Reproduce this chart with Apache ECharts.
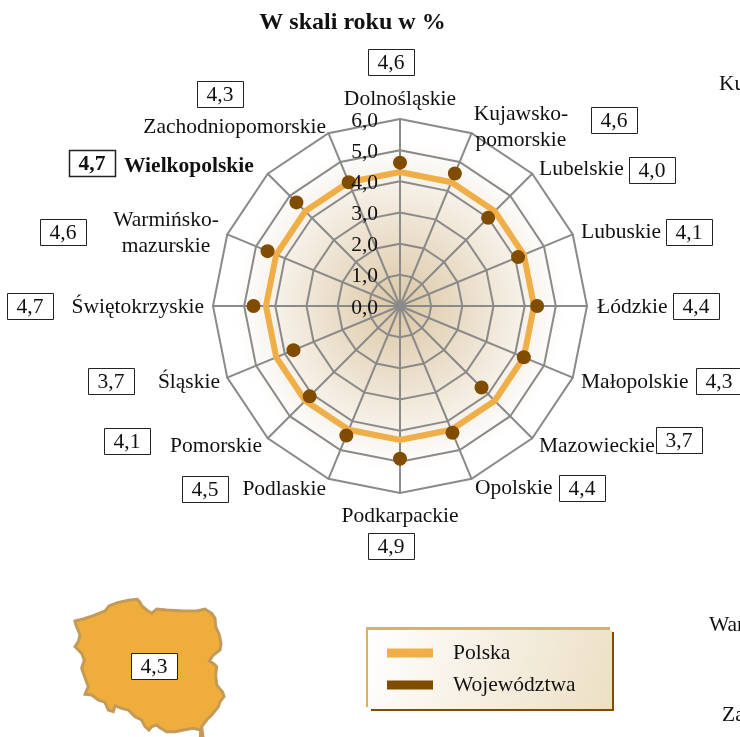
<!DOCTYPE html>
<html>
<head>
<meta charset="utf-8">
<style>
html, body { margin: 0; padding: 0; background: #fff; overflow: hidden; }
#chart { width: 740px; height: 737px; }
</style>
<script src="https://cdn.jsdelivr.net/npm/echarts@6/dist/echarts.min.js"></script>
</head>
<body>
<div id="chart"></div>
<script>
// dane z wykresu
var regions = ['Dolnośląskie', 'Kujawsko-\npomorskie', 'Lubelskie', 'Lubuskie', 'Łódzkie', 'Małopolskie', 'Mazowieckie', 'Opolskie',
    'Podkarpackie', 'Podlaskie', 'Pomorskie', 'Śląskie', 'Świętokrzyskie', 'Warmińsko-\nmazurskie', 'Wielkopolskie', 'Zachodniopomorskie'];
var wojewodztwa = [4.6, 4.6, 4.0, 4.1, 4.4, 4.3, 3.7, 4.4, 4.9, 4.5, 4.1, 3.7, 4.7, 4.6, 4.7, 4.3];
var polska = [4.3, 4.3, 4.3, 4.3, 4.3, 4.3, 4.3, 4.3, 4.3, 4.3, 4.3, 4.3, 4.3, 4.3, 4.3, 4.3];
var polskaValue = 4.3;
var seriesNames = ['Polska', 'Województwa'];
var axisMax = 6;

// polozenie podpisow: [x, y, align]
var labelPos = [
    [400, 99, 'center'], [521, 127, 'center'], [539, 169, 'left'], [581, 232, 'left'],
    [597, 307, 'left'], [581, 382, 'left'], [539, 446, 'left'], [475, 488, 'left'],
    [400, 516, 'center'], [326, 489, 'right'], [262, 446, 'right'], [220, 382, 'right'],
    [204, 307, 'right'], [166, 233, 'center'], [124, 166, 'left'], [326, 127, 'right']
];
// srodki ramek z wartosciami
var boxPos = [
    [391, 62], [614, 120], [652, 170], [689, 232], [696, 306], [719, 381], [679, 440], [582, 488],
    [391, 546], [205, 489], [127, 441], [111, 381], [30, 306], [63, 232], [92, 163], [220, 94]
];
var boldIndex = 14;

// kontur Polski (ozdoba, nie dane), wspolrzedne z powiekszenia 3x od (50,585)
var mapOutline = [[75, 108], [100, 102], [130, 92], [165, 78], [178, 62], [205, 52], [240, 45], [262, 43], [270, 52], [275, 62],
    [282, 68], [290, 75], [305, 85], [320, 72], [350, 75], [400, 78], [440, 78], [465, 72], [485, 85], [495, 100],
    [497, 125], [508, 150], [513, 175], [510, 195], [490, 210], [478, 228], [490, 235], [500, 245], [497, 270], [500, 300],
    [518, 322], [522, 335], [510, 350], [505, 365], [485, 390], [470, 405], [455, 425], [462, 480], [450, 480], [452, 435],
    [430, 430], [400, 435], [375, 440], [350, 440], [330, 428], [320, 420], [305, 425], [297, 435], [285, 425], [275, 405],
    [255, 395], [235, 375], [215, 370], [195, 362], [190, 380], [175, 375], [165, 352], [145, 345], [125, 330], [105, 328],
    [115, 305], [100, 265], [95, 250], [103, 225], [95, 205], [75, 185], [85, 170], [90, 150], [78, 120]];

var font = '"Liberation Serif", "Times New Roman", serif';
var fontSize = 21.5;

function fmt(v) {
    return v.toFixed(1).replace('.', ',');
}

// radar w ECharts idzie przeciwnie do wskazowek zegara
function ccw(arr) {
    return [arr[0]].concat(arr.slice(1).reverse());
}

function valueBox(cx, cy, value, bold) {
    return {
        type: 'group',
        children: [
            {
                type: 'rect',
                z: 20,
                shape: { x: cx - 22.5, y: cy - 12.5, width: 46, height: 26 },
                style: { fill: '#fff', stroke: '#222', lineWidth: bold ? 1.5 : 1 }
            },
            {
                type: 'text',
                z: 21,
                style: {
                    x: cx, y: cy + 1, text: fmt(value), align: 'center', verticalAlign: 'middle',
                    font: (bold ? 'bold ' : '') + fontSize + 'px ' + font, fill: '#111'
                }
            }
        ]
    };
}

var graphics = [];

// mapa
graphics.push({
    type: 'polygon',
    z: 5,
    shape: {
        points: mapOutline.map(function (p) { return [p[0] / 3 + 50, p[1] / 3 + 585]; })
    },
    style: { fill: '#efae3c', stroke: '#c39a58', lineWidth: 3 }
});
graphics.push(valueBox(154, 666, polskaValue, false));

// tlo legendy
graphics.push({
    type: 'rect', z: 1,
    shape: { x: 371, y: 632, width: 243, height: 79 },
    style: { fill: '#7f4c00' }
});
graphics.push({
    type: 'rect', z: 2,
    shape: { x: 366, y: 627, width: 244, height: 80 },
    style: { fill: '#dfae62' }
});
graphics.push({
    type: 'rect', z: 3,
    shape: { x: 368, y: 630, width: 244, height: 79 },
    style: {
        fill: new echarts.graphic.LinearGradient(0, 0, 1, 1, [
            { offset: 0, color: '#ffffff' },
            { offset: 1, color: '#ecdfc4' }
        ])
    }
});

// podpisy wojewodztw i ramki
regions.forEach(function (name, i) {
    var p = labelPos[i];
    graphics.push({
        type: 'text',
        z: 20,
        style: {
            x: p[0], y: p[1], text: name, align: p[2], verticalAlign: 'middle',
            font: (i === boldIndex ? 'bold ' : '') + fontSize + 'px ' + font,
            lineHeight: 26, fill: '#111'
        }
    });
    graphics.push(valueBox(boxPos[i][0], boxPos[i][1], wojewodztwa[i], i === boldIndex));
});

// uciete podpisy przy prawej krawedzi
[['Kujawsko-', 719, 84], ['Warmińsko-', 709, 625], ['Zachodniopomorskie', 722, 715]].forEach(function (t) {
    graphics.push({
        type: 'text',
        z: 20,
        style: { x: t[1], y: t[2], text: t[0], verticalAlign: 'middle', font: fontSize + 'px ' + font, fill: '#111' }
    });
});

var chart = echarts.init(document.getElementById('chart'));

chart.setOption({
    animation: false,
    textStyle: { fontFamily: font },
    title: {
        text: 'W skali roku w %',
        left: 347.5,
        top: 6,
        textAlign: 'center',
        textStyle: { fontFamily: font, fontSize: 24, fontWeight: 'bold', color: '#111' }
    },
    legend: {
        orient: 'vertical',
        left: 382,
        top: 637,
        itemWidth: 46,
        itemHeight: 9,
        itemGap: 10,
        data: [
            { name: seriesNames[0], icon: 'rect', itemStyle: { color: '#efae47' } },
            { name: seriesNames[1], icon: 'rect', itemStyle: { color: '#7f4c00' } }
        ],
        textStyle: { fontFamily: font, fontSize: fontSize, color: '#111', padding: [0, 0, 0, 15] }
    },
    radar: [
        {
            center: [400, 306],
            radius: 187,
            startAngle: 90,
            splitNumber: 6,
            shape: 'polygon',
            axisName: { show: false },
            axisLine: { lineStyle: { color: '#8a8a8a', width: 2 } },
            splitLine: { lineStyle: { color: '#8a8a8a', width: 2 } },
            splitArea: {
                show: true,
                areaStyle: {
                    color: [{
                        type: 'radial', x: 400, y: 306, r: 165, global: true,
                        colorStops: [
                            { offset: 0, color: '#dcc7a4' },
                            { offset: 1, color: '#ffffff' }
                        ]
                    }]
                }
            },
            indicator: ccw(regions).map(function (name) {
                return { name: name, min: 0, max: axisMax };
            })
        },
        // drugi radar tylko na opisy osi, zeby byly nad znacznikami
        {
            z: 10,
            center: [400, 306],
            radius: 187,
            startAngle: 90,
            splitNumber: 6,
            shape: 'polygon',
            axisName: { show: false },
            axisLine: { show: false },
            splitLine: { show: false },
            splitArea: { show: false },
            indicator: ccw(regions).map(function (name, i) {
                return {
                    name: name,
                    min: 0,
                    max: axisMax,
                    axisLabel: {
                        show: i === 0,
                        margin: 22,
                        formatter: function (v) { return '{t|' + fmt(v) + '}'; },
                        rich: {
                            t: { color: '#111', fontFamily: font, fontSize: fontSize, padding: [4, 0, 0, 0] }
                        }
                    }
                };
            })
        }
    ],
    series: [
        {
            type: 'radar',
            z: 3,
            symbol: 'none',
            lineStyle: { color: '#efae47', width: 6, join: 'miter' },
            itemStyle: { color: '#efae47' },
            data: [{ name: seriesNames[0], value: ccw(polska) }]
        },
        {
            type: 'radar',
            z: 4,
            symbol: 'circle',
            symbolSize: 14,
            lineStyle: { width: 0, opacity: 0 },
            itemStyle: { color: '#7f4c00' },
            data: [{ name: seriesNames[1], value: ccw(wojewodztwa) }]
        }
    ],
    graphic: { elements: graphics }
});
</script>
</body>
</html>
